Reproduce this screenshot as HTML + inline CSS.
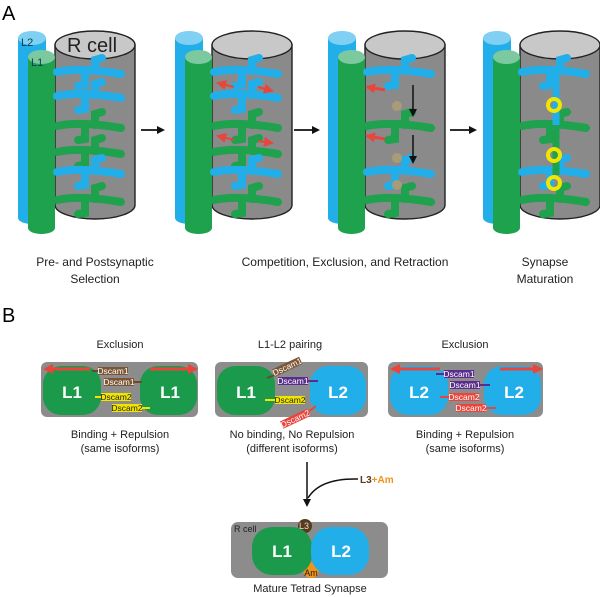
<!DOCTYPE html>
<html><head><meta charset="utf-8"><style>
body{margin:0;background:#fff}
svg{display:block;font-family:"Liberation Sans",Arial,sans-serif}
</style></head><body>
<svg width="600" height="597" viewBox="0 0 600 597" xmlns="http://www.w3.org/2000/svg">
<defs>
<marker id="ah" markerWidth="8" markerHeight="8" refX="6" refY="4" orient="auto" markerUnits="userSpaceOnUse"><path d="M0,0 L8,4 L0,8 z" fill="#111"/></marker>
<marker id="ra" markerWidth="10" markerHeight="10" refX="8" refY="5" orient="auto" markerUnits="userSpaceOnUse"><path d="M0,0 L10,5 L0,10 z" fill="#e8453c"/></marker>
<g id="cyl">
  <rect x="-37" y="8" width="28" height="180" fill="#22aee8"/>
  <ellipse cx="-23" cy="8" rx="14" ry="7" fill="#7fd0f2"/>
  <ellipse cx="-23" cy="188" rx="14" ry="6" fill="#22aee8"/>
  <path d="M0,15 L0,175 A40,14 0 0 0 80,175 L80,15 Z" fill="#8a8a8a" stroke="#222" stroke-width="1.4"/>
  <ellipse cx="40" cy="15" rx="40" ry="14" fill="#c8c8c8" stroke="#222" stroke-width="1.4"/>
  <rect x="-27" y="27" width="27" height="171" fill="#1fa24e"/>
  <ellipse cx="-13.5" cy="27" rx="13.5" ry="7" fill="#7cc9a0"/>
  <ellipse cx="-13.5" cy="198" rx="13.5" ry="6" fill="#1fa24e"/>
</g>
<g id="dB" fill="none" stroke="#22aee8" stroke-width="8" stroke-linecap="round">
  <path d="M2,0 Q25,-5 66,2"/><path d="M40,-1 L40,-12 L47,-14"/><path d="M30,0 L30,13 L23,14"/>
</g>
<g id="dG" fill="none" stroke="#1fa24e" stroke-width="8" stroke-linecap="round">
  <path d="M2,0 Q25,-5 66,2"/><path d="M40,-1 L40,-12 L47,-14"/><path d="M30,0 L30,13 L23,14"/>
</g>
</defs>
<text x="2" y="20" font-size="20">A</text>
<g transform="translate(55,30)"><use href="#cyl"/>
<use href="#dB" transform="translate(0,42)"/><use href="#dB" transform="translate(0,66)"/>
<use href="#dG" transform="translate(0,96)"/><use href="#dG" transform="translate(0,122)"/>
<use href="#dB" transform="translate(0,142)"/><use href="#dG" transform="translate(0,170)"/>
<text x="12" y="22" font-size="20" fill="#222">R cell</text>
<text x="-34" y="16" font-size="11" fill="#0a3a55">L2</text>
<text x="-24" y="36" font-size="11" fill="#0a3a55">L1</text>
</g>
<g transform="translate(212,30)"><use href="#cyl"/>
<use href="#dB" transform="translate(0,42)"/><use href="#dB" transform="translate(0,66)"/>
<use href="#dG" transform="translate(0,96)"/><use href="#dG" transform="translate(0,122)"/>
<use href="#dB" transform="translate(0,142)"/><use href="#dG" transform="translate(0,170)"/>
<line x1="22" y1="57" x2="6" y2="53" stroke="#e8453c" stroke-width="2" marker-end="url(#ra)"/>
<line x1="46" y1="57" x2="60" y2="61" stroke="#e8453c" stroke-width="2" marker-end="url(#ra)"/>
<line x1="22" y1="110" x2="6" y2="106" stroke="#e8453c" stroke-width="2" marker-end="url(#ra)"/>
<line x1="46" y1="111" x2="60" y2="113" stroke="#e8453c" stroke-width="2" marker-end="url(#ra)"/>
</g>
<g transform="translate(365,30)"><use href="#cyl"/>
<use href="#dB" transform="translate(0,42)"/>
<use href="#dG" transform="translate(0,96)"/>
<use href="#dB" transform="translate(0,142)"/><use href="#dG" transform="translate(0,170)"/>
<line x1="20" y1="60" x2="2" y2="57" stroke="#e8453c" stroke-width="3" marker-end="url(#ra)"/>
<line x1="20" y1="109" x2="2" y2="106" stroke="#e8453c" stroke-width="3" marker-end="url(#ra)"/>
<line x1="48" y1="55" x2="48" y2="85" stroke="#111" stroke-width="1.5" marker-end="url(#ah)"/>
<line x1="48" y1="105" x2="48" y2="132" stroke="#111" stroke-width="1.5" marker-end="url(#ah)"/>
<circle cx="32" cy="76" r="5" fill="#a89c78"/><circle cx="32" cy="128" r="5" fill="#a89c78"/><circle cx="32" cy="155" r="5" fill="#a89c78"/>
</g>
<g transform="translate(520,30)"><use href="#cyl"/>
<use href="#dB" transform="translate(0,42)"/>
<use href="#dG" transform="translate(0,96)"/>
<use href="#dB" transform="translate(0,142)"/><use href="#dG" transform="translate(0,170)"/>
<line x1="36" y1="42" x2="36" y2="95" stroke="#22aee8" stroke-width="7"/>
<line x1="36" y1="96" x2="36" y2="145" stroke="#1fa24e" stroke-width="7"/>
<circle cx="34" cy="75" r="6" fill="none" stroke="#f2e600" stroke-width="4"/>
<circle cx="34" cy="125" r="6" fill="none" stroke="#f2e600" stroke-width="4"/>
<circle cx="34" cy="153" r="6" fill="none" stroke="#f2e600" stroke-width="4"/>
</g>
<line x1="141" y1="130" x2="163" y2="130" stroke="#111" stroke-width="1.8" marker-end="url(#ah)"/>
<line x1="294" y1="130" x2="318" y2="130" stroke="#111" stroke-width="1.8" marker-end="url(#ah)"/>
<line x1="450" y1="130" x2="475" y2="130" stroke="#111" stroke-width="1.8" marker-end="url(#ah)"/>
<g font-size="12" fill="#222" text-anchor="middle">
<text x="95" y="266">Pre- and Postsynaptic</text><text x="95" y="283">Selection</text>
<text x="345" y="266">Competition, Exclusion, and Retraction</text>
<text x="545" y="266">Synapse</text><text x="545" y="283">Maturation</text>
</g>
<text x="2" y="322" font-size="20">B</text>
<g font-size="11" fill="#222" text-anchor="middle">
<text x="120" y="348">Exclusion</text><text x="290" y="348">L1-L2 pairing</text><text x="465" y="348">Exclusion</text>
<text x="120" y="438">Binding + Repulsion</text><text x="120" y="452">(same isoforms)</text>
<text x="292" y="438">No binding, No Repulsion</text><text x="292" y="452">(different isoforms)</text>
<text x="465" y="438">Binding + Repulsion</text><text x="465" y="452">(same isoforms)</text>
<text x="310" y="592">Mature Tetrad Synapse</text>
</g>
<rect x="41" y="362" width="157" height="55" rx="6" fill="#8c8c8c"/>
<rect x="43" y="366" width="58" height="49" rx="18" fill="#1a9a4a"/>
<rect x="140" y="366" width="57" height="49" rx="18" fill="#1a9a4a"/>
<line x1="90" y1="369" x2="45" y2="369" stroke="#e8453c" stroke-width="3" marker-end="url(#ra)"/>
<line x1="150" y1="369" x2="196" y2="369" stroke="#e8453c" stroke-width="3" marker-end="url(#ra)"/>
<g font-size="8.5">
<line x1="92" y1="371" x2="99" y2="371" stroke="#6b4a2c" stroke-width="2"/><rect x="98" y="367" width="30" height="8" fill="#7b5534"/><text x="113" y="374" fill="#fff" text-anchor="middle">Dscam1</text>
<line x1="134" y1="382" x2="142" y2="382" stroke="#6b4a2c" stroke-width="2"/><rect x="104" y="378" width="30" height="8" fill="#7b5534"/><text x="119" y="385" fill="#fff" text-anchor="middle">Dscam1</text>
<line x1="95" y1="397" x2="101" y2="397" stroke="#f2e600" stroke-width="2"/><rect x="101" y="393" width="30" height="8" fill="#f2e600"/><text x="116" y="400" fill="#222" text-anchor="middle">Dscam2</text>
<line x1="142" y1="408" x2="150" y2="408" stroke="#f2e600" stroke-width="2"/><rect x="112" y="404" width="30" height="8" fill="#f2e600"/><text x="127" y="411" fill="#222" text-anchor="middle">Dscam2</text>
</g>
<text x="72" y="398" font-size="17" font-weight="bold" fill="#fff" text-anchor="middle">L1</text>
<text x="170" y="398" font-size="17" font-weight="bold" fill="#fff" text-anchor="middle">L1</text>
<rect x="215" y="362" width="153" height="55" rx="6" fill="#8c8c8c"/>
<rect x="217" y="366" width="58" height="49" rx="18" fill="#1a9a4a"/>
<rect x="310" y="366" width="56" height="49" rx="18" fill="#22aee8"/>
<text x="246" y="398" font-size="17" font-weight="bold" fill="#fff" text-anchor="middle">L1</text>
<text x="338" y="398" font-size="17" font-weight="bold" fill="#fff" text-anchor="middle">L2</text>
<g font-size="8.5">
<line x1="267" y1="378" x2="275" y2="375" stroke="#6b4a2c" stroke-width="2"/>
<g transform="translate(274,374) rotate(-25)"><rect x="0" y="-5" width="30" height="8" fill="#7b5534"/><text x="15" y="2" fill="#fff" text-anchor="middle">Dscam1</text></g>
<rect x="278" y="377" width="30" height="8" fill="#5a2d8c"/><text x="293" y="384" fill="#fff" text-anchor="middle">Dscam1</text>
<line x1="308" y1="381" x2="318" y2="381" stroke="#5a2d8c" stroke-width="2"/>
<line x1="265" y1="400" x2="275" y2="400" stroke="#f2e600" stroke-width="2"/>
<rect x="275" y="396" width="30" height="8" fill="#f2e600"/><text x="290" y="403" fill="#222" text-anchor="middle">Dscam2</text>
<line x1="316" y1="406" x2="308" y2="412" stroke="#e8453c" stroke-width="2"/>
<g transform="translate(282,426) rotate(-25)"><rect x="0" y="-5" width="30" height="8" fill="#e8453c"/><text x="15" y="2" fill="#fff" text-anchor="middle">Dscam2</text></g>
</g>
<rect x="388" y="362" width="155" height="55" rx="6" fill="#8c8c8c"/>
<rect x="390" y="366" width="58" height="49" rx="18" fill="#22aee8"/>
<rect x="484" y="366" width="57" height="49" rx="18" fill="#22aee8"/>
<line x1="440" y1="369" x2="392" y2="369" stroke="#e8453c" stroke-width="3" marker-end="url(#ra)"/>
<line x1="500" y1="369" x2="541" y2="369" stroke="#e8453c" stroke-width="3" marker-end="url(#ra)"/>
<text x="419" y="398" font-size="17" font-weight="bold" fill="#fff" text-anchor="middle">L2</text>
<text x="514" y="398" font-size="17" font-weight="bold" fill="#fff" text-anchor="middle">L2</text>
<g font-size="8.5">
<line x1="436" y1="374" x2="444" y2="374" stroke="#5a2d8c" stroke-width="2"/><rect x="444" y="370" width="30" height="8" fill="#5a2d8c"/><text x="459" y="377" fill="#fff" text-anchor="middle">Dscam1</text>
<rect x="450" y="381" width="30" height="8" fill="#5a2d8c"/><text x="465" y="388" fill="#fff" text-anchor="middle">Dscam1</text><line x1="480" y1="385" x2="490" y2="385" stroke="#5a2d8c" stroke-width="2"/>
<line x1="440" y1="397" x2="449" y2="397" stroke="#e8453c" stroke-width="2"/><rect x="449" y="393" width="30" height="8" fill="#e8453c"/><text x="464" y="400" fill="#fff" text-anchor="middle">Dscam2</text>
<rect x="456" y="404" width="30" height="8" fill="#e8453c"/><text x="471" y="411" fill="#fff" text-anchor="middle">Dscam2</text><line x1="486" y1="408" x2="496" y2="408" stroke="#e8453c" stroke-width="2"/>
</g>
<line x1="307" y1="462" x2="307" y2="505" stroke="#111" stroke-width="1.5" marker-end="url(#ah)"/>
<path d="M358,479 Q320,478 308,498" fill="none" stroke="#111" stroke-width="1.5"/>
<text x="360" y="483" font-size="10" font-weight="bold" fill="#5a3a1c">L3<tspan fill="#f0921c">+Am</tspan></text>
<rect x="231" y="522" width="157" height="56" rx="7" fill="#8c8c8c"/>
<circle cx="305" cy="526" r="7" fill="#5a3a1c"/>
<circle cx="311" cy="570" r="8" fill="#f0921c"/>
<rect x="252" y="527" width="60" height="48" rx="20" fill="#1a9a4a"/>
<rect x="311" y="527" width="58" height="48" rx="20" fill="#22aee8"/>
<text x="304" y="529" font-size="9" fill="#ddd" text-anchor="middle">L3</text>
<text x="311" y="576" font-size="9" fill="#222" text-anchor="middle">Am</text>
<text x="234" y="532" font-size="9" fill="#222">R cell</text>
<text x="282" y="557" font-size="17" font-weight="bold" fill="#fff" text-anchor="middle">L1</text>
<text x="341" y="557" font-size="17" font-weight="bold" fill="#fff" text-anchor="middle">L2</text>
</svg>
</body></html>
